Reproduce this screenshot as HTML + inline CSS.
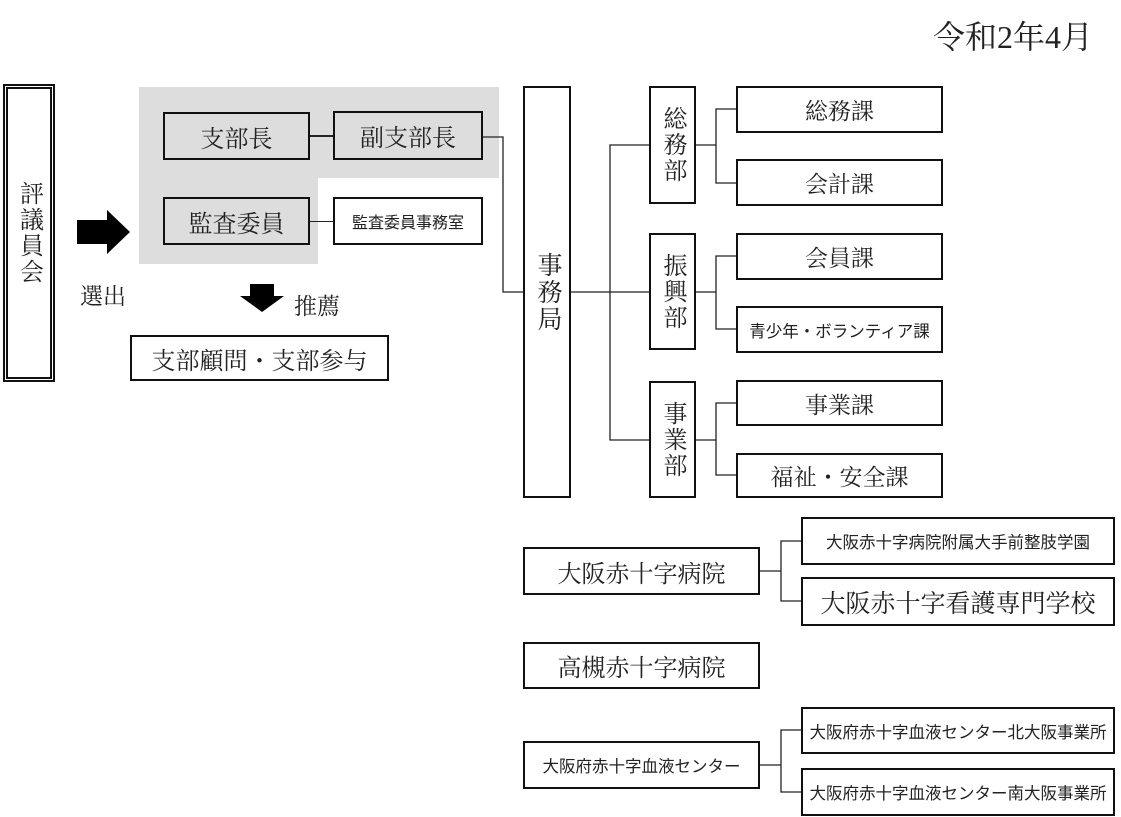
<!DOCTYPE html>
<html><head><meta charset="utf-8"><style>
body{margin:0;width:1121px;height:817px;background:#fff;position:relative;overflow:hidden;font-family:"Liberation Serif","Noto Serif CJK SC","Noto Sans CJK JP",serif;color:#222}
.b{position:absolute;border:2px solid #111;box-sizing:border-box;display:flex;align-items:center;justify-content:center;background:#fff;white-space:nowrap}
.g{background:#ddd}
.v{writing-mode:vertical-rl;letter-spacing:2px}
.l{position:absolute;background:#222}
.t{position:absolute;white-space:nowrap}
.s{font-size:16.5px;font-family:'Noto Sans CJK JP',sans-serif}
</style></head><body>
<div class="t" style="left:933px;top:12px;font-size:32px">令和2年4月</div>

<div class="b v" style="left:3px;top:84px;width:52px;height:298px;border:5px double #111;font-size:24px">評議員会</div>

<div style="position:absolute;left:139px;top:87px;width:360px;height:91px;background:#ddd"></div>
<div style="position:absolute;left:139px;top:178px;width:179px;height:86px;background:#ddd"></div>

<div class="b g" style="left:163px;top:112px;width:147px;height:48px;font-size:24px">支部長</div>
<div class="b g" style="left:333px;top:111px;width:150px;height:49px;font-size:24px">副支部長</div>
<div class="b g" style="left:163px;top:197px;width:147px;height:48px;font-size:24px">監査委員</div>
<div class="b s" style="left:333px;top:197px;width:150px;height:48px;font-size:16px">監査委員事務室</div>
<div class="l" style="left:310px;top:135px;width:23px;height:2px"></div>
<div class="l" style="left:310px;top:221px;width:23px;height:1px"></div>

<svg style="position:absolute;left:0;top:0" width="1121" height="817">
<polygon points="77,220 107,220 107,210 130,232 107,254 107,244 77,244" fill="#000"/>
<polygon points="250,284 274,284 274,296 284,296 262,312 240,296 250,296" fill="#000"/>
<polyline points="483,137 503,137 503,292 523,292" fill="none" stroke="#222" stroke-width="1.3"/>
<g fill="none" stroke="#222" stroke-width="1.3">
<line x1="571" y1="292" x2="649" y2="292"/>
<polyline points="649,145 610,145 610,440 649,440"/>
<line x1="696" y1="145" x2="716" y2="145"/>
<polyline points="736,109 716,109 716,183 736,183"/>
<line x1="696" y1="292" x2="716" y2="292"/>
<polyline points="736,256 716,256 716,329 736,329"/>
<line x1="696" y1="440" x2="716" y2="440"/>
<polyline points="736,403 716,403 716,475 736,475"/>
<line x1="760" y1="571" x2="781" y2="571"/>
<polyline points="801,541 781,541 781,601 801,601"/>
<line x1="760" y1="765" x2="781" y2="765"/>
<polyline points="801,730 781,730 781,792 801,792"/>
</g>
</svg>
<div class="t" style="left:80px;top:278px;font-size:23px">選出</div>
<div class="t" style="left:294px;top:288px;font-size:23px">推薦</div>
<div class="b" style="left:130px;top:335px;width:259px;height:46px;font-size:24px">支部顧問・支部参与</div>

<div class="b v" style="left:523px;top:86px;width:48px;height:412px;font-size:25px">事務局</div>
<div class="b v" style="left:649px;top:86px;width:47px;height:118px;font-size:24px">総務部</div>
<div class="b v" style="left:649px;top:233px;width:47px;height:117px;font-size:24px">振興部</div>
<div class="b v" style="left:649px;top:381px;width:47px;height:117px;font-size:24px">事業部</div>
<div class="b" style="left:736px;top:86px;width:207px;height:47px;font-size:23px">総務課</div>
<div class="b" style="left:736px;top:159px;width:207px;height:47px;font-size:23px">会計課</div>
<div class="b" style="left:736px;top:233px;width:207px;height:47px;font-size:23px">会員課</div>
<div class="b s" style="left:736px;top:306px;width:207px;height:47px">青少年・ボランティア課</div>
<div class="b" style="left:736px;top:380px;width:207px;height:46px;font-size:23px">事業課</div>
<div class="b" style="left:736px;top:453px;width:207px;height:45px;font-size:23px">福祉・安全課</div>

<div class="b" style="left:523px;top:547px;width:237px;height:48px;font-size:24px">大阪赤十字病院</div>
<div class="b s" style="left:801px;top:517px;width:314px;height:48px">大阪赤十字病院附属大手前整肢学園</div>
<div class="b" style="left:801px;top:577px;width:314px;height:49px;font-size:25px">大阪赤十字看護専門学校</div>
<div class="b" style="left:523px;top:642px;width:237px;height:47px;font-size:24px">高槻赤十字病院</div>
<div class="b s" style="left:523px;top:741px;width:237px;height:48px">大阪府赤十字血液センター</div>
<div class="b s" style="left:801px;top:707px;width:314px;height:47px">大阪府赤十字血液センター北大阪事業所</div>
<div class="b s" style="left:801px;top:768px;width:314px;height:48px">大阪府赤十字血液センター南大阪事業所</div>
</body></html>
